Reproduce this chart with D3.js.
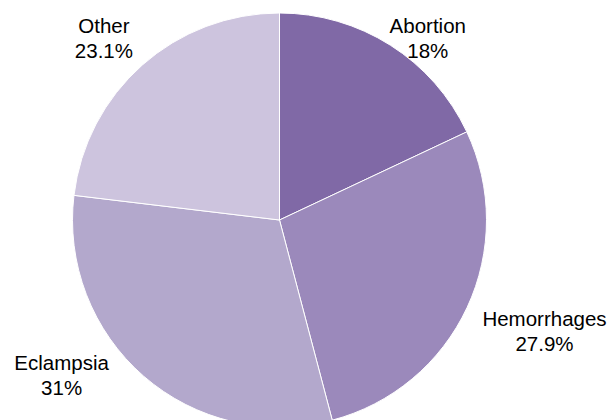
<!DOCTYPE html>
<html>
<head>
<meta charset="utf-8">
<script src="https://cdn.jsdelivr.net/npm/d3@7"></script>
<style>
  html, body { margin: 0; padding: 0; background: #ffffff; }
  svg { display: block; }
  text { font-family: "Liberation Sans", Arial, sans-serif; fill: #000; }
</style>
</head>
<body>
<div id="chart"></div>
<script>
// Causes of maternal death, share of total (%)
const causes = ["Abortion", "Hemorrhages", "Eclampsia", "Other"];
const shares = [18, 27.9, 31, 23.1];
const shareLabels = ["18%", "27.9%", "31%", "23.1%"];
const sliceColors = ["#8069a6", "#9b89bb", "#b3a8cc", "#cdc4de"];

// Label nudges from the slice's outer label point (layout only)
const labelNudge = [[17, 20], [43, 2], [-57, -35], [-13, -4]];

const width = 614, height = 420;
const cx = 279.5, cy = 220, radius = 207;

const svg = d3.select("#chart").append("svg")
  .attr("width", width)
  .attr("height", height);

const g = svg.append("g").attr("transform", `translate(${cx},${cy})`);

const rows = causes.map((c, i) => ({ cause: c, value: shares[i], label: shareLabels[i], i }));

const pie = d3.pie().value(d => d.value).sort(null);
const arcs = pie(rows);

const arc = d3.arc().innerRadius(0).outerRadius(radius);
const labelArc = d3.arc().innerRadius(245).outerRadius(245);

g.selectAll("path.slice")
  .data(arcs)
  .join("path")
  .attr("class", "slice")
  .attr("d", arc)
  .attr("fill", d => sliceColors[d.data.i])
  .attr("stroke", "#ffffff")
  .attr("stroke-width", 1);

const labels = g.selectAll("text.lbl")
  .data(arcs)
  .join("text")
  .attr("class", "lbl")
  .attr("text-anchor", "middle")
  .attr("font-size", 20.5)
  .attr("transform", d => {
    const [x, y] = labelArc.centroid(d);
    const [nx, ny] = labelNudge[d.data.i];
    return `translate(${x + nx},${y + ny})`;
  });

labels.append("tspan").attr("x", 0).attr("y", 0).text(d => d.data.cause);
labels.append("tspan").attr("x", 0).attr("y", 25).text(d => d.data.label);
</script>
</body>
</html>
